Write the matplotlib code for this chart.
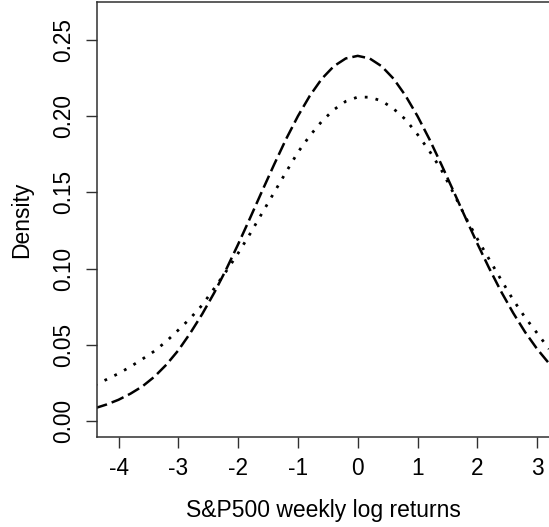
import matplotlib
matplotlib.use("Agg")
import matplotlib.pyplot as plt

plt.rcParams['font.family'] = ['Liberation Sans', 'DejaVu Sans']

# Grid of weekly log-return values (%)
returns = [-4.4, -4.2, -4.0, -3.8, -3.6, -3.4, -3.2, -3.0, -2.8, -2.6,
           -2.4, -2.2, -2.0, -1.8, -1.6, -1.4, -1.2, -1.0, -0.8, -0.6,
           -0.4, -0.2, 0.0, 0.2, 0.4, 0.6, 0.8, 1.0, 1.2, 1.4,
           1.6, 1.8, 2.0, 2.2, 2.4, 2.6, 2.8, 3.0, 3.2]

# Fitted normal density (dashed)
normal_density = [0.0085, 0.0110, 0.0141, 0.0181, 0.0229, 0.0292, 0.0371, 0.0465, 0.0578, 0.0703,
                  0.0842, 0.0995, 0.1160, 0.1332, 0.1508, 0.1681, 0.1848, 0.2000, 0.2134, 0.2245,
                  0.2327, 0.2378, 0.2395, 0.2378, 0.2327, 0.2245, 0.2134, 0.2000, 0.1848, 0.1682,
                  0.1510, 0.1336, 0.1165, 0.1002, 0.0849, 0.0710, 0.0584, 0.0474, 0.0379]

# Estimated density of the returns (dotted)
estimated_density = [0.0237, 0.0274, 0.0313, 0.0358, 0.0408, 0.0460, 0.0524, 0.0598, 0.0675, 0.0762,
                     0.0871, 0.0983, 0.1101, 0.1229, 0.1364, 0.1498, 0.1632, 0.1763, 0.1872, 0.1966,
                     0.2042, 0.2097, 0.2125, 0.2124, 0.2100, 0.2048, 0.1978, 0.1880, 0.1771, 0.1647,
                     0.1497, 0.1340, 0.1196, 0.1061, 0.0926, 0.0796, 0.0680, 0.0578, 0.0474]

xticks = [-4, -3, -2, -1, 0, 1, 2, 3]
yticks = [0.00, 0.05, 0.10, 0.15, 0.20, 0.25]
ytick_labels = ["0.00", "0.05", "0.10", "0.15", "0.20", "0.25"]

W, H = 549, 527
fig = plt.figure(figsize=(W / 100, H / 100), dpi=100)
left_px, right_px, top_px, bottom_px = 97, 549, 2, 437
ax = fig.add_axes([left_px / W, (H - bottom_px) / H,
                   (right_px - left_px) / W, (bottom_px - top_px) / H])

ax.plot(returns, normal_density, color='black', lw=1.8,
        dashes=(5.2, 2.0), dash_capstyle='butt')
ax.plot(returns, estimated_density, color='black', lw=2.0,
        dashes=(1.0, 2.95), dash_capstyle='butt')

ax.set_xlim(-4.36, 3.199)
ax.set_ylim(-0.0103, 0.2748)

ax.spines['right'].set_visible(False)
for s in ('left', 'bottom', 'top'):
    ax.spines[s].set_color('#303030')
    ax.spines[s].set_linewidth(1.1)

ax.set_xticks(xticks)
ax.set_xticklabels([str(t) if t >= 0 else "-" + str(-t) for t in xticks])
ax.set_yticks(yticks)
ax.set_yticklabels(ytick_labels, rotation=90, va='center')
ax.tick_params(axis='both', direction='out', length=8, width=1.0,
               color='#303030', labelsize=16.3)
ax.tick_params(axis='x', pad=6.5)
ax.tick_params(axis='y', pad=8)

ax.set_xlabel("S&P500 weekly log returns", fontsize=16.5, va='center')
ax.xaxis.set_label_coords(0.5, (bottom_px - 510) / (bottom_px - top_px))
ax.set_ylabel("Density", fontsize=16.5, va='center')
ax.yaxis.set_label_coords((22 - left_px) / (right_px - left_px), 0.5)

fig.savefig("out.png", dpi=100)
